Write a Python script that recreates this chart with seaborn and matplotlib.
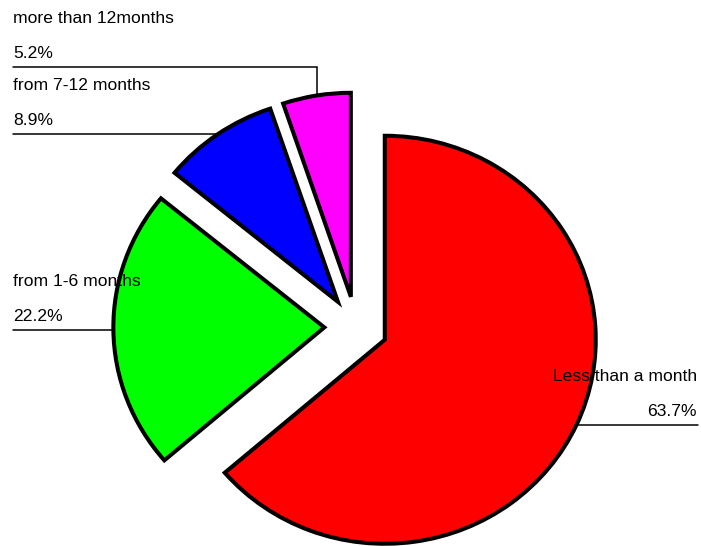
import numpy as np
import matplotlib
matplotlib.use("Agg")
import matplotlib.pyplot as plt
import seaborn as sns

# Share of respondents by duration
categories = ["Less than a month", "from 1-6 months", "from 7-12 months", "more than 12months"]
shares = [63.7, 22.2, 8.9, 5.2]
colors = ["#FF0000", "#00FF00", "#0000FF", "#FF00FF"]

sns.set_theme(style="white")
plt.rcParams["font.family"] = ["Liberation Sans", "DejaVu Sans"]

fig = plt.figure(figsize=(7.01, 5.46), dpi=100)
ax = fig.add_axes([0, 0, 1, 1])

wedges, _ = ax.pie(
    shares,
    colors=colors,
    startangle=90,
    counterclock=False,
    explode=[0.15] * len(shares),
    radius=1.0,
    wedgeprops=dict(edgecolor="black", linewidth=2.9, joinstyle="miter"),
)

# Map the pie's unit coordinates onto the canvas (pie centre near (356, 327) px)
CX, CY, SX, SY = 356.0, 327.0, 211.0, 204.0
W, H = 701.0, 546.0
ax.set_aspect("auto")
ax.set_xlim(-CX / SX, (W - CX) / SX)
ax.set_ylim(-(H - CY) / SY, CY / SY)
ax.axis("off")


def px_x(px):
    return (px - CX) / SX


def px_y(py):
    return (CY - py) / SY


left_x = px_x(13)
right_x = px_x(698)
# label shelf heights (px from top) for the wedges whose leader bends upward
shelf = {3: 66.7}

for i, (w, name, val) in enumerate(zip(wedges, categories, shares)):
    mid = np.deg2rad((w.theta1 + w.theta2) / 2)
    cx, cy = w.center
    mx, my = cx + w.r * np.cos(mid), cy + w.r * np.sin(mid)
    if i in shelf:
        sy = px_y(shelf[i])
        xs, ys = [mx, mx, left_x], [my, sy, sy]
    else:
        sy = my
        end = right_x if np.cos(mid) > 0 else left_x
        xs, ys = [mx, end], [my, my]
    ax.plot(xs, ys, color="black", lw=1.1, solid_joinstyle="miter", zorder=3)

    if np.cos(mid) > 0:
        tx, ha = px_x(697), "right"
    else:
        tx, ha = left_x, "left"
    ax.text(tx, sy + 44 / SY, name, ha=ha, va="baseline", fontsize=12.6, color="black", zorder=4)
    ax.text(tx, sy + 9 / SY, f"{val:.1f}%", ha=ha, va="baseline", fontsize=12.6, color="black", zorder=4)

fig.savefig("out.png", dpi=100)
